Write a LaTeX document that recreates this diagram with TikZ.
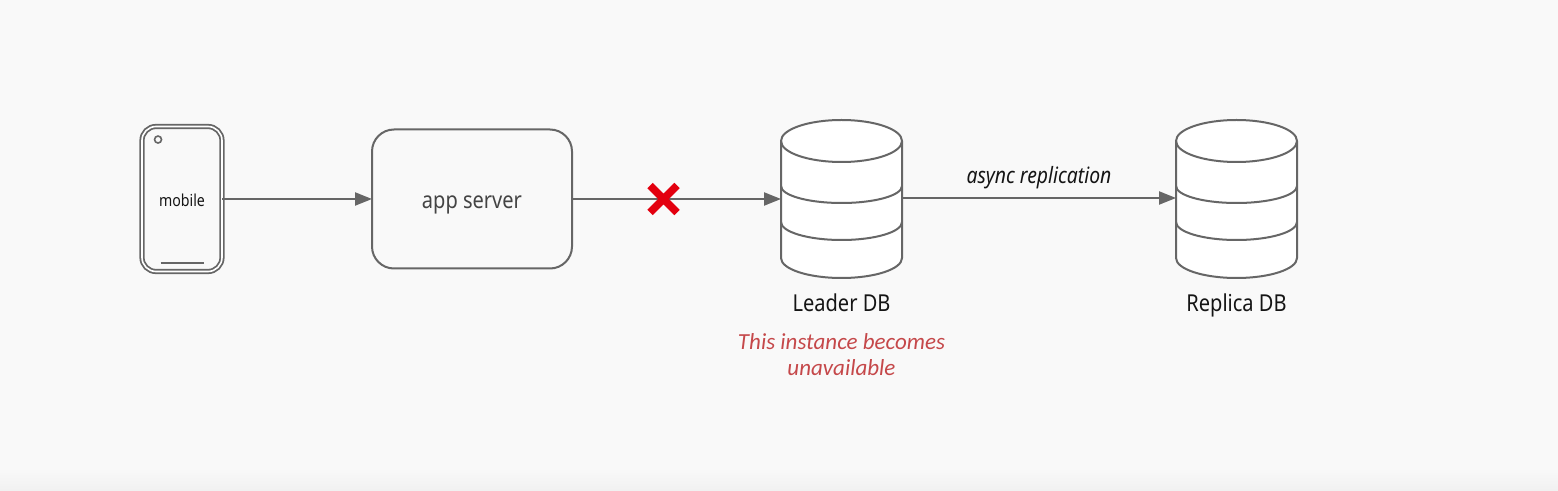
\documentclass[tikz,border=0pt]{standalone}
\usepackage{fontspec}
\setmainfont{Noto Sans}[FakeStretch=0.86]
\newfontfamily\notefont{Carlito}
\usetikzlibrary{positioning,arrows.meta,shapes.misc}

\definecolor{bgcolor}{HTML}{F9F9F9}
\definecolor{edgecolor}{HTML}{F1F1F1}
\definecolor{linecolor}{HTML}{666666}
\definecolor{textcolor}{HTML}{151515}
\definecolor{servertext}{HTML}{444444}
\definecolor{notecolor}{HTML}{C5484A}
\definecolor{crosscolor}{HTML}{E3000F}

\tikzstyle{block} = [draw=linecolor, line width=2pt, rectangle, outer sep=0pt, inner sep=0pt, text=textcolor]
\tikzstyle{mobile-block} = [block, line width=1.8pt, double=white, double distance=1.6pt, rounded corners=14pt, minimum width=80pt, minimum height=145pt, text height=15pt, text depth=0pt, font=\fontsize{16.5}{20}\selectfont]
\tikzstyle{server-block} = [block, text=servertext, fill=bgcolor, rounded corners=22pt, minimum width=200pt, minimum height=139pt, text height=19pt, text depth=0pt, font=\fontsize{23.3}{28}\selectfont]
\tikzstyle{db-block} = [rectangle, outer sep=0pt, inner sep=0pt, minimum width=121pt, minimum height=158pt]
\tikzstyle{db-label} = [text=textcolor, font=\fontsize{23.3}{28}\selectfont]
\tikzstyle{link} = [draw=linecolor, line width=2.2pt, -{Triangle[length=17pt,width=13pt]}]

% one database: body, top ellipse and the two bands
\newcommand{\dbdrum}[1]{
	\draw [linecolor, line width=2pt, fill=white] ([yshift=-21pt]#1.north west) arc [start angle=180, end angle=0, x radius=60.5pt, y radius=21pt] -- ([yshift=20pt]#1.south east) arc [start angle=0, end angle=-180, x radius=60.5pt, y radius=20pt] -- cycle;
	\foreach \offset/\drop in {21/21,66/17,102/18}
		\draw [linecolor, line width=2pt] ([yshift=-\offset pt]#1.north west) arc [start angle=180, end angle=360, x radius=60.5pt, y radius=\drop pt];
}

\begin{document}
\begin{tikzpicture}

	\fill [bgcolor] (0,0) rectangle (1558pt,490pt);
	\shade [top color=bgcolor, bottom color=edgecolor] (0,0) rectangle (1558pt,22pt);

	\node [mobile-block] (mobile) at (182pt,291pt) {mobile};
	\node [server-block, right=150pt of mobile] (appserver) {app server};
	\node [db-block, right=209pt of appserver] (leader) {};
	\node [db-block, right=274pt of leader] (replica) {};

	\dbdrum{leader}
	\dbdrum{replica}

	\node [db-label, below=12pt of leader] (leaderlabel) {Leader DB};
	\node [db-label, below=12pt of replica] (replicalabel) {Replica DB};
	\node [below=14.5pt of leaderlabel, text=notecolor, align=center, font=\notefont\itshape\fontsize{23}{26}\selectfont] (leadernote) {This instance becomes\\unavailable};

	\node [circle, draw=linecolor, line width=1.6pt, minimum size=7pt, inner sep=0pt, below right=10pt and 13pt of mobile.north west] (camera) {};
	\coordinate (barleft) at ([xshift=-21.5pt,yshift=8.5pt]mobile.south);
	\coordinate (barright) at ([xshift=21.5pt,yshift=8.5pt]mobile.south);
	\draw [linecolor, line width=2.4pt] (barleft) -- (barright);

	\draw [link] (mobile.east) -- (appserver.west);
	\draw [link] (appserver.east) -- (leader.west);
	\draw [link] ([yshift=1pt]leader.east) -- node [above=5pt, text=textcolor, font=\itshape\fontsize{22.5}{27}\selectfont] (replicationlabel) {async replication} ([yshift=1pt]replica.west);

	\node [cross out, draw=crosscolor, line width=7.5pt, minimum size=27pt, inner sep=0pt, outer sep=0pt, right=78pt of appserver.east] (failure) {};

\end{tikzpicture}
\end{document}
